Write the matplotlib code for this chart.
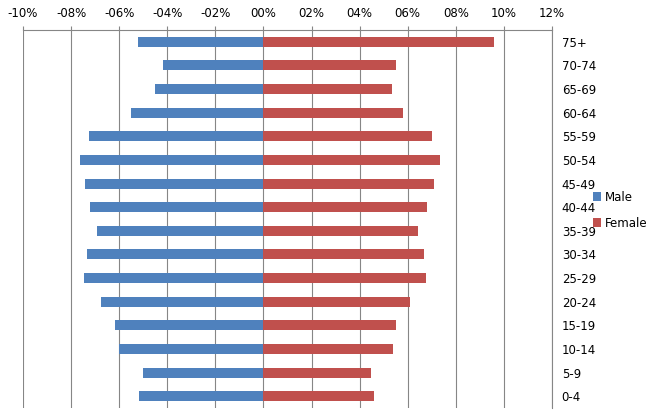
import numpy as np
import matplotlib.pyplot as plt

# Age groups from bottom to top
age_groups = ['0-4', '5-9', '10-14', '15-19', '20-24', '25-29', '30-34', '35-39',
              '40-44', '45-49', '50-54', '55-59', '60-64', '65-69', '70-74', '75+']
male = [-5.18, -5.01, -6.01, -6.17, -6.76, -7.46, -7.34, -6.92,
        -7.21, -7.42, -7.63, -7.24, -5.51, -4.51, -4.18, -5.22]
female = [4.59, 4.47, 5.38, 5.51, 6.09, 6.76, 6.67, 6.42,
          6.80, 7.09, 7.35, 7.01, 5.79, 5.34, 5.50, 9.58]
x_ticks = [-10, -8, -6, -4, -2, 0, 2, 4, 6, 8, 10, 12]

grey = '#868686'

def pct_label(v):
    sign = '-' if v < 0 else ''
    return f'{sign}{abs(v):02d}%'

fig = plt.figure(figsize=(6.66, 4.18), dpi=100)
ax = fig.add_axes([23 / 666, 1 - 408 / 418, (552 - 23) / 666, (408 - 30) / 418])

y = np.arange(len(age_groups))
ax.barh(y, male, height=0.42, color='#4F81BD', label='Male', zorder=3)
ax.barh(y, female, height=0.42, color='#C0504D', label='Female', zorder=3)

ax.set_xlim(-10, 12)
ax.set_ylim(-0.5, len(age_groups) - 0.5)
ax.set_xticks(x_ticks)
ax.set_xticklabels([pct_label(v) for v in x_ticks])
ax.xaxis.tick_top()
ax.tick_params(axis='x', length=3, width=0.8, color=grey, labelsize=8.5, pad=4)
ax.grid(axis='x', color=grey, linewidth=0.8, zorder=0)

ax.set_yticks(y)
ax.set_yticklabels(age_groups)
ax.yaxis.tick_right()
ax.tick_params(axis='y', length=0, labelsize=8.5, pad=7)

for side in ['left', 'bottom']:
    ax.spines[side].set_visible(False)
for side in ['top', 'right']:
    ax.spines[side].set_color(grey)
    ax.spines[side].set_linewidth(0.8)

fig.legend(loc='center left', bbox_to_anchor=(582 / 666, 0.497), frameon=False,
           handlelength=0.75, handleheight=0.75, handletextpad=0.3,
           labelspacing=1.1, fontsize=8.5)

fig.savefig('out.png', dpi=100)
